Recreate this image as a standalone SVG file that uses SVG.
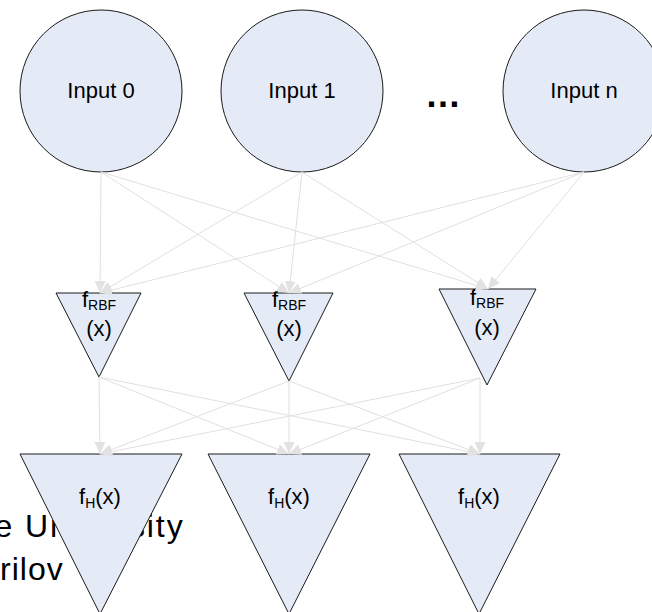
<svg xmlns="http://www.w3.org/2000/svg" width="652" height="612" viewBox="0 0 652 612">
  <style>
    text { font-family: "Liberation Sans", Arial, sans-serif; fill: #000; }
    .lbl { font-size: 22px; text-anchor: middle; }
    .sub { font-size: 14px; }
    .node { fill: #e5ebf6; stroke: #1a1a1a; stroke-width: 1; }
    .edge { fill: none; stroke: #e0e0e0; stroke-width: 1; marker-end: url(#arrow); }
    .bg { font-size: 32px; }
  </style>
  <defs>
    <marker id="arrow" markerUnits="userSpaceOnUse" markerWidth="13" markerHeight="12" refX="12" refY="5.5" orient="auto">
      <path d="M0,0 L12,5.5 L0,11 Z" fill="#e2e2e2"/>
    </marker>
  </defs>

  <rect width="652" height="612" fill="#fff"/>

  <!-- leftover slide caption, partly covered by the output layer -->
  <g id="caption">
    <text class="bg" x="-5.4" y="537" letter-spacing="1.9">e University</text>
    <text class="bg" x="0" y="580" letter-spacing="1">rilov</text>
  </g>

  <!-- input layer -->
  <g id="input0">
    <circle class="node" cx="101" cy="91" r="81"/>
    <text class="lbl" x="101" y="98">Input 0</text>
  </g>
  <g id="input1">
    <circle class="node" cx="302" cy="91" r="81"/>
    <text class="lbl" x="302" y="98">Input 1</text>
  </g>
  <g id="ellipsis">
    <text x="443" y="107" font-size="36" font-weight="bold" text-anchor="middle">…</text>
  </g>
  <g id="inputN">
    <circle class="node" cx="584" cy="91" r="81"/>
    <text class="lbl" x="584" y="98">Input n</text>
  </g>

  <!-- RBF hidden layer -->
  <g id="rbf0">
    <polygon class="node" points="56,293 141,293 99,377"/>
    <text class="lbl" x="99" y="307">f<tspan class="sub" dy="3">RBF</tspan></text>
    <text class="lbl" x="99" y="336">(x)</text>
  </g>
  <g id="rbf1">
    <polygon class="node" points="244,293 333,293 289,381"/>
    <text class="lbl" x="289" y="307">f<tspan class="sub" dy="3">RBF</tspan></text>
    <text class="lbl" x="289" y="336">(x)</text>
  </g>
  <g id="rbf2">
    <polygon class="node" points="439,289 536,289 487,385"/>
    <text class="lbl" x="487" y="305">f<tspan class="sub" dy="3">RBF</tspan></text>
    <text class="lbl" x="487" y="335">(x)</text>
  </g>

  <!-- output layer -->
  <g id="out0">
    <polygon class="node" points="20,454 182,454 100,614"/>
    <text class="lbl" x="100" y="504">f<tspan class="sub" dy="4">H</tspan><tspan dy="-4">(x)</tspan></text>
  </g>
  <g id="out1">
    <polygon class="node" points="208,454 370,454 289,614"/>
    <text class="lbl" x="289" y="504">f<tspan class="sub" dy="4">H</tspan><tspan dy="-4">(x)</tspan></text>
  </g>
  <g id="out2">
    <polygon class="node" points="399,454 560,454 479,614"/>
    <text class="lbl" x="479" y="504">f<tspan class="sub" dy="4">H</tspan><tspan dy="-4">(x)</tspan></text>
  </g>

  <!-- connectors -->
  <g id="connectors">
    <line class="edge" x1="101" y1="172" x2="100" y2="293"/>
    <line class="edge" x1="101" y1="172" x2="289" y2="293"/>
    <line class="edge" x1="101" y1="172" x2="488" y2="289"/>
    <line class="edge" x1="302" y1="172" x2="100" y2="293"/>
    <line class="edge" x1="302" y1="172" x2="289" y2="293"/>
    <line class="edge" x1="302" y1="172" x2="488" y2="289"/>
    <line class="edge" x1="584" y1="172" x2="100" y2="293"/>
    <line class="edge" x1="584" y1="172" x2="289" y2="293"/>
    <line class="edge" x1="584" y1="172" x2="488" y2="289"/>

    <line class="edge" x1="99" y1="377" x2="100" y2="454"/>
    <line class="edge" x1="99" y1="377" x2="289" y2="454"/>
    <line class="edge" x1="99" y1="377" x2="480" y2="454"/>
    <line class="edge" x1="289" y1="381" x2="100" y2="454"/>
    <line class="edge" x1="289" y1="381" x2="289" y2="454"/>
    <line class="edge" x1="289" y1="381" x2="480" y2="454"/>
    <line class="edge" x1="480" y1="378" x2="100" y2="454"/>
    <line class="edge" x1="480" y1="378" x2="289" y2="454"/>
    <line class="edge" x1="480" y1="378" x2="480" y2="454"/>
  </g>
</svg>
